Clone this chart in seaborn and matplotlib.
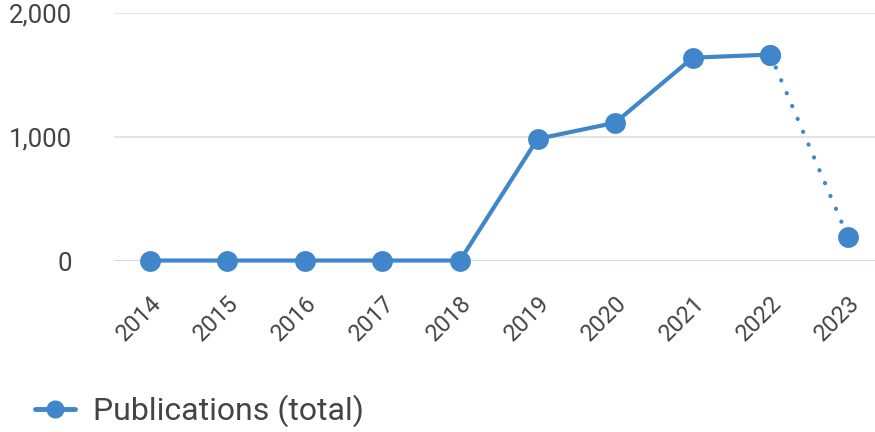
import numpy as np
import pandas as pd
import matplotlib
matplotlib.use("Agg")
import matplotlib.pyplot as plt
from matplotlib.lines import Line2D
import seaborn as sns

years = [2014, 2015, 2016, 2017, 2018, 2019, 2020, 2021, 2022, 2023]
pubs = [4, 4, 4, 4, 4, 985, 1115, 1640, 1665, 195]
y_ticks = [0, 1000, 2000]
y_labels = ["0", "1,000", "2,000"]
series_name = "Publications (total)"

blue = "#3F86CA"
sns.set_style("white")
plt.rcParams["font.family"] = ["Roboto", "DejaVu Sans"]

df = pd.DataFrame({"year": years, "pubs": pubs})
solid = df.iloc[:-1]
dotted = df.iloc[-2:]

fig = plt.figure(figsize=(8.75, 4.32), dpi=100)
ax = fig.add_axes([0.1303, 0.3958, 0.8697, 0.574])

# gridlines + baseline
for t in y_ticks:
    ax.axhline(t, color="#c9d5ee" if t == 0 else "#e2e2e2", lw=1.3, zorder=0)

sns.lineplot(data=solid, x="year", y="pubs", ax=ax, color=blue, lw=3,
             marker="o", markersize=15, markeredgewidth=0, clip_on=False)
sns.lineplot(data=dotted, x="year", y="pubs", ax=ax, color=blue, lw=3,
             linestyle=(0, (0.05, 3.3)), dash_capstyle="round",
             marker="o", markersize=15, markeredgewidth=0, clip_on=False)

ax.set_xlim(2013.54, 2023.35)
ax.set_ylim(0, 2000)
ax.set_xticks(years)
ax.set_xticklabels([str(y) for y in years], rotation=45, ha="right",
                   va="top", rotation_mode="anchor", fontsize=17, color="#444444")
ax.set_yticks(y_ticks)
ax.set_yticklabels(y_labels, fontsize=18.5, color="#444444")
ax.tick_params(axis="x", length=0, pad=22)
ax.tick_params(axis="y", length=0, pad=30)
ax.set_xlabel("")
ax.set_ylabel("")
for s in ax.spines.values():
    s.set_visible(False)

handle = Line2D([], [], color=blue, lw=3.5, marker="o", markersize=13, markeredgewidth=0)
fig.legend([handle], [series_name], loc="center left", bbox_to_anchor=(0.04, 0.049),
           frameon=False, fontsize=23, handlelength=1.25, handletextpad=0.56,
           borderpad=0, borderaxespad=0, labelcolor="#444444")

fig.savefig("out.png", dpi=100)
